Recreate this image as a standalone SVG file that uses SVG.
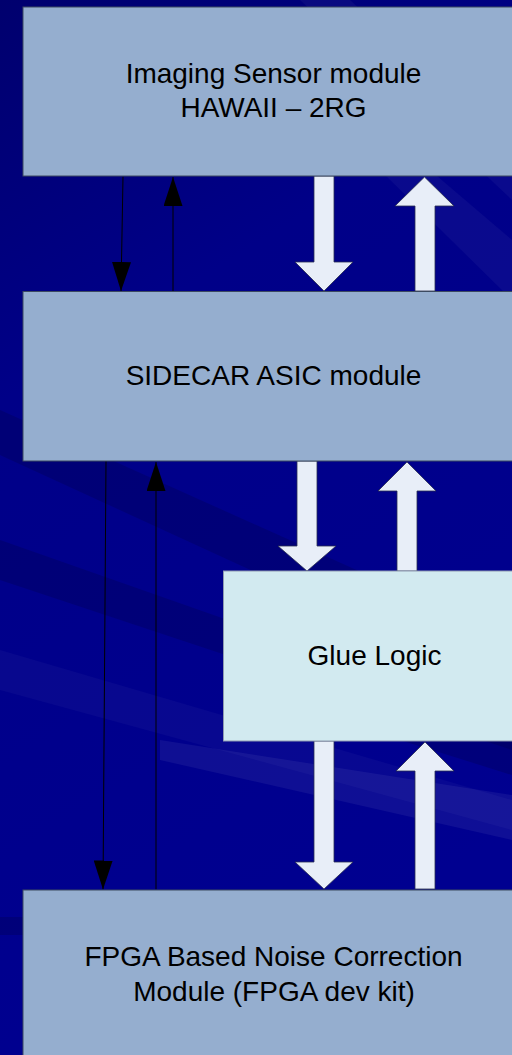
<svg xmlns="http://www.w3.org/2000/svg" width="512" height="1055" viewBox="0 0 512 1055">
<defs>
<linearGradient id="bg" x1="0" y1="0" x2="0.3" y2="1">
<stop offset="0" stop-color="#00006e"/>
<stop offset="0.35" stop-color="#000088"/>
<stop offset="1" stop-color="#000090"/>
</linearGradient>
<marker id="ah" viewBox="0 0 29 19" refX="29" refY="9.5" markerWidth="29" markerHeight="19" markerUnits="userSpaceOnUse" orient="auto">
<path d="M0,0 L29,9.5 L0,19 Z" fill="#000"/>
</marker>
</defs>
<style>
.box{fill:#95aecf;stroke:#3c4a60;stroke-width:1}
.glue{fill:#d2eaf0;stroke:#8e9ab0;stroke-width:1}
.fat{fill:#e8eef8;stroke:#2a2f50;stroke-width:0.8}
.thin{stroke:#000;stroke-width:1;fill:none}
.lbl{font-family:"Liberation Sans",Arial,sans-serif;font-size:28px;fill:#000;text-anchor:middle}
.band{fill:#ffffff}
.dark{fill:#000040}
</style>
<rect width="512" height="1055" fill="url(#bg)"/>
<g id="background">
<polygon class="band" opacity="0.04" points="300,0 350,0 512,150 512,200"/>
<polygon class="band" opacity="0.04" points="380,170 430,170 512,240 512,300"/>
<polygon class="dark" opacity="0.25" points="0,410 512,640 512,690 0,455"/>
<polygon class="dark" opacity="0.25" points="0,540 512,720 512,750 0,580"/>
<polygon class="band" opacity="0.03" points="0,650 512,800 512,830 0,690"/>
<polygon class="band" opacity="0.06" points="160,740 512,795 512,840 160,760"/>
<polygon class="dark" opacity="0.25" points="400,740 512,740 512,775"/>
<polygon class="dark" opacity="0.25" points="0,917 23,917 23,935 0,935"/>
</g>
<g id="connectors">
<line class="thin" x1="123" y1="176.5" x2="121" y2="291" marker-end="url(#ah)"/>
<line class="thin" x1="173" y1="291" x2="173" y2="177" marker-end="url(#ah)"/>
<line class="thin" x1="106" y1="461" x2="103" y2="889.5" marker-end="url(#ah)"/>
<line class="thin" x1="156" y1="889.5" x2="156" y2="462" marker-end="url(#ah)"/>
<path class="fat" d="M314,176 L334,176 L334,262 L353,262 L324,291 L295,262 L314,262 Z"/>
<path class="fat" d="M415,291 L435,291 L435,206 L454,206 L424.5,177 L395,206 L415,206 Z"/>
<path class="fat" d="M297,461 L317,461 L317,546 L336,546 L307,571 L278,546 L297,546 Z"/>
<path class="fat" d="M397,571 L417,571 L417,491 L436,491 L407,462 L378,491 L397,491 Z"/>
<path class="fat" d="M314,741 L334,741 L334,862 L353,862 L324,889 L295,862 L314,862 Z"/>
<path class="fat" d="M415,889 L435,889 L435,771 L454,771 L425,742 L396,771 L415,771 Z"/>
</g>
<g id="imaging-sensor">
<rect class="box" x="23" y="7" width="510" height="169"/>
<text class="lbl" x="273.5" y="83">Imaging Sensor module</text>
<text class="lbl" x="273.5" y="117">HAWAII – 2RG</text>
</g>
<g id="sidecar">
<rect class="box" x="23" y="291.5" width="510" height="169.5"/>
<text class="lbl" x="273.5" y="385">SIDECAR ASIC module</text>
</g>
<g id="glue-logic">
<rect class="glue" x="223.5" y="571" width="310" height="170"/>
<text class="lbl" x="374.5" y="665">Glue Logic</text>
</g>
<g id="fpga">
<rect class="box" x="23" y="890" width="510" height="180"/>
<text class="lbl" x="273.5" y="966">FPGA Based Noise Correction</text>
<text class="lbl" x="274" y="1000.5">Module (FPGA dev kit)</text>
</g>
</svg>
